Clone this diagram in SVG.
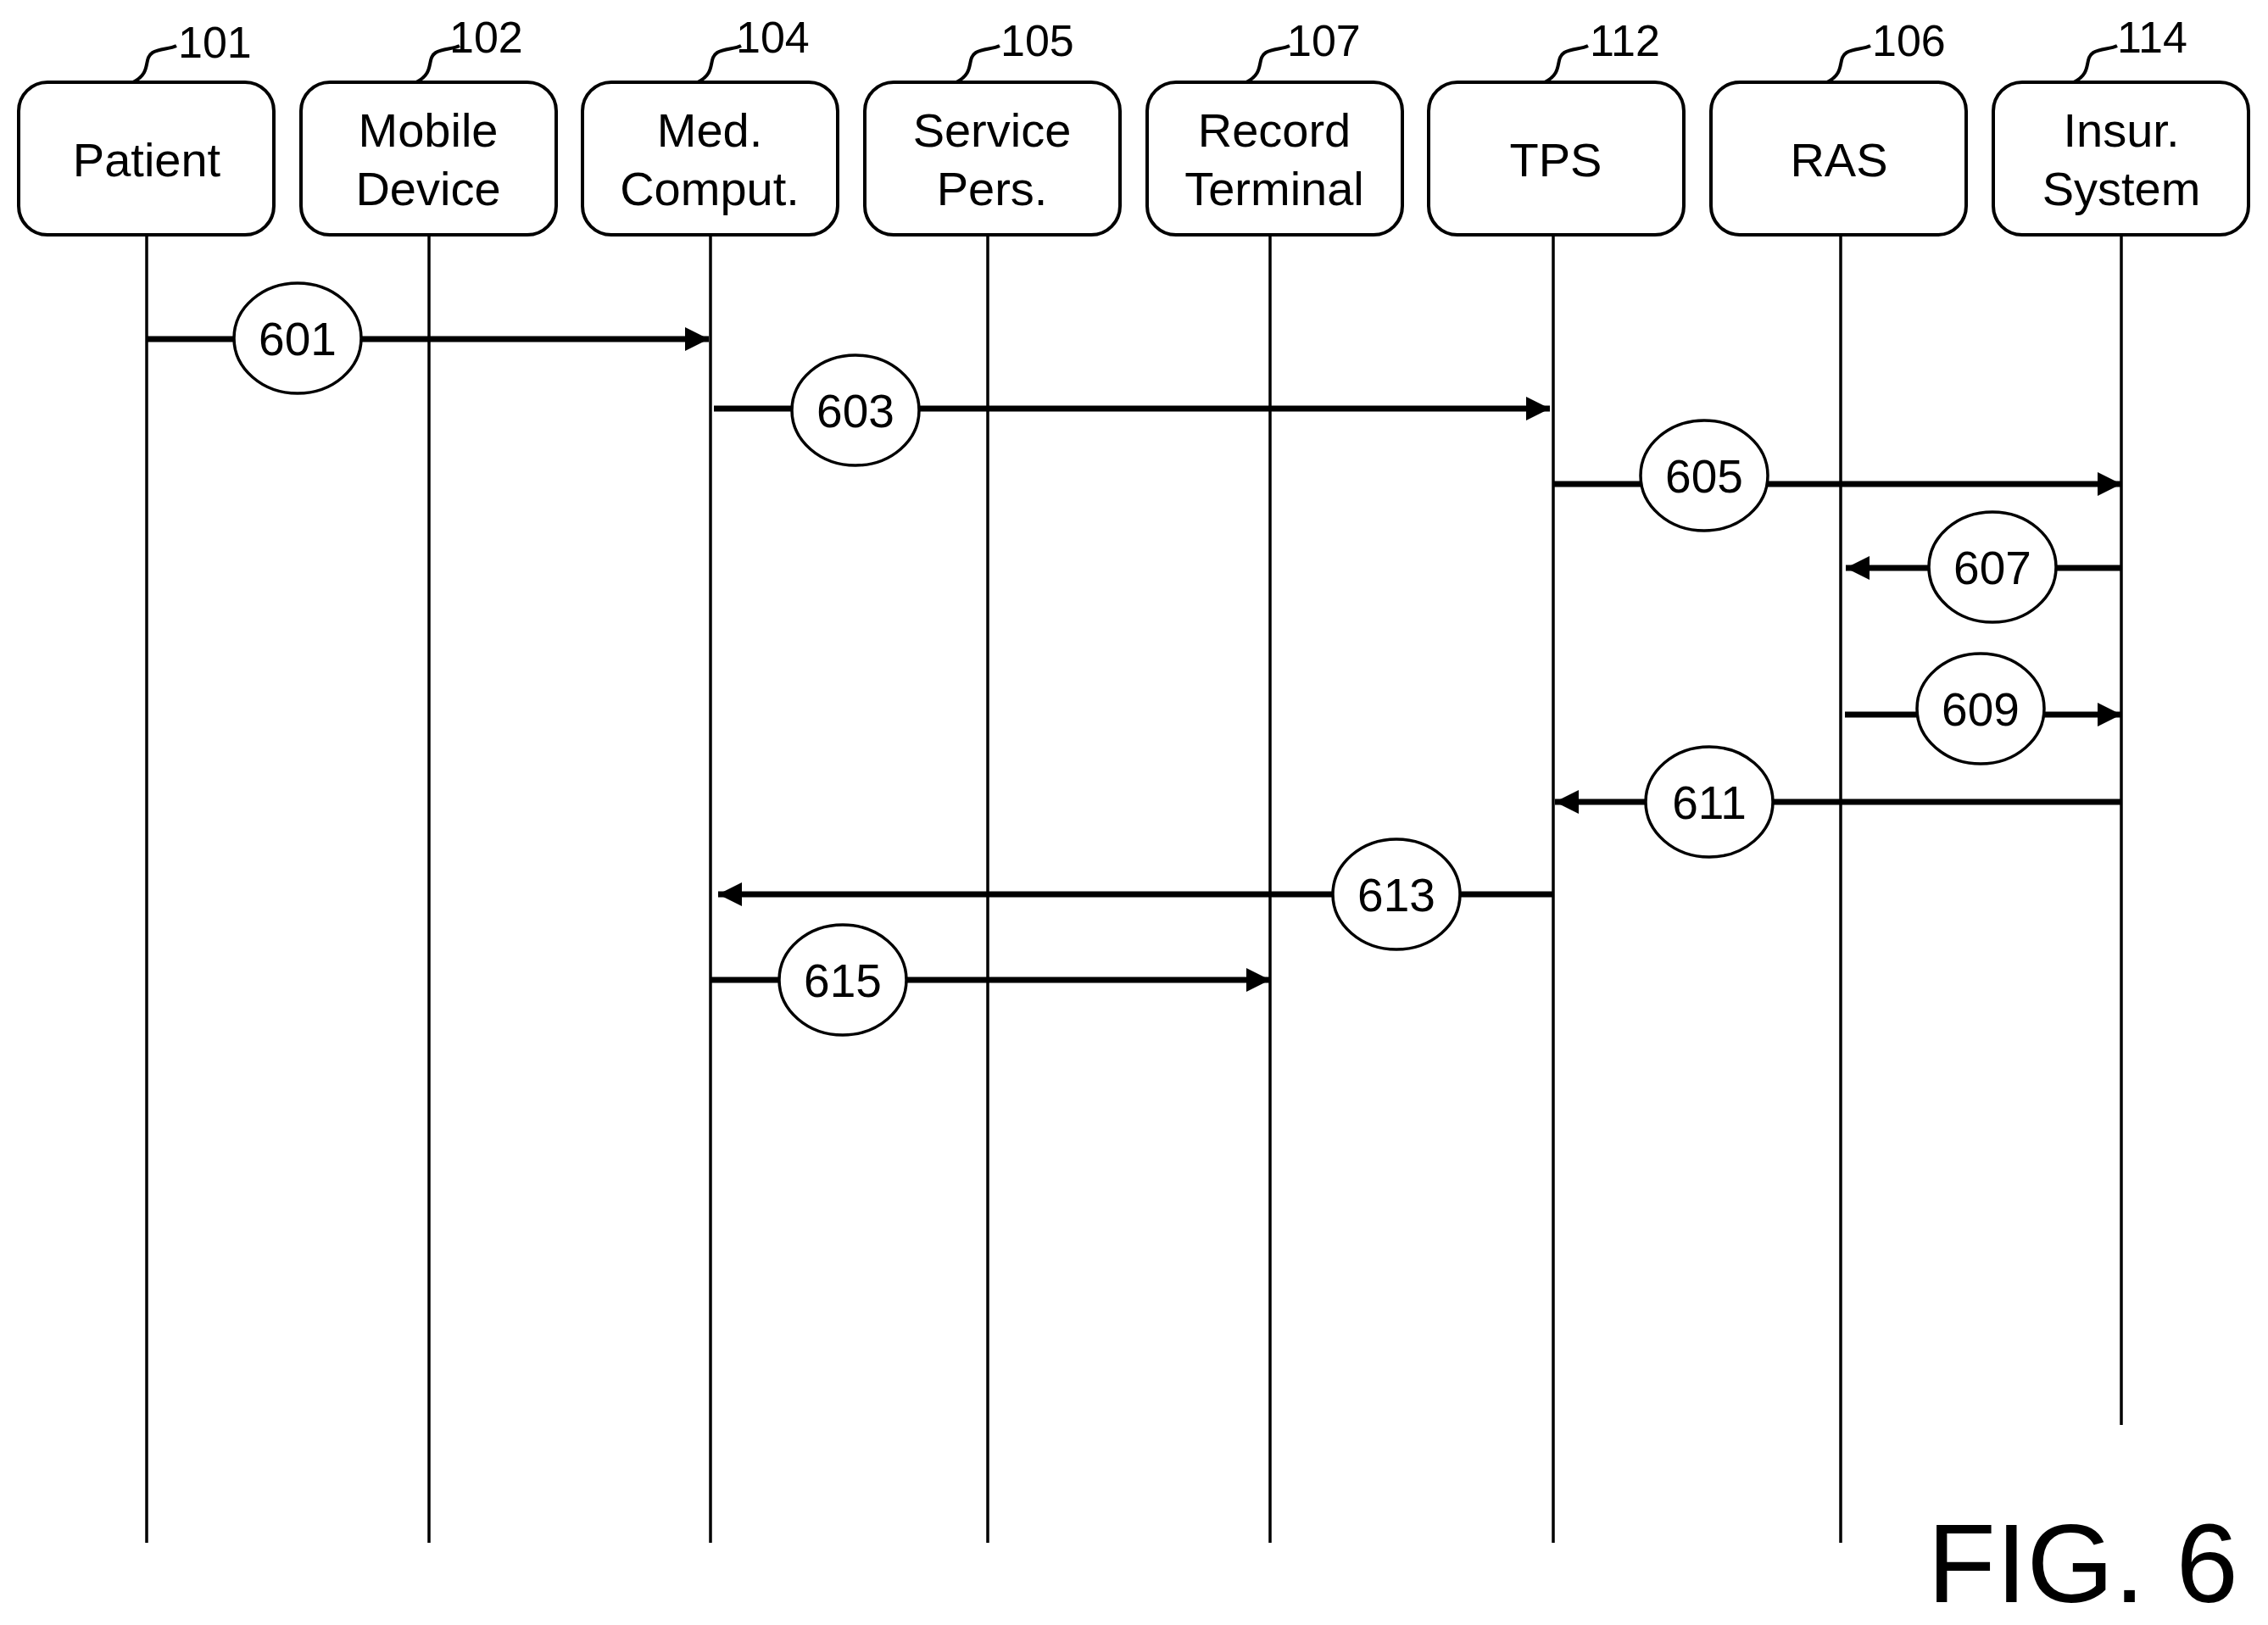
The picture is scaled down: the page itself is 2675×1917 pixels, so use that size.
<svg xmlns="http://www.w3.org/2000/svg" width="2675" height="1917" viewBox="0 0 2675 1917">
<style>
.box{fill:#fff;stroke:#000;stroke-width:4}
.life{stroke:#000;stroke-width:3.5}
.msg{stroke:#000;stroke-width:7;fill:none}
.sq{stroke:#000;stroke-width:4;fill:none}
.t{font-family:"Liberation Sans",Arial,sans-serif;font-size:56px;text-anchor:middle;fill:#000}
.n{font-family:"Liberation Sans",Arial,sans-serif;font-size:55px;text-anchor:middle;fill:#000}
.r{font-family:"Liberation Sans",Arial,sans-serif;font-size:52px;fill:#000}
.el{fill:#fff;stroke:#000;stroke-width:3.5}
</style>
<defs>
<marker id="ah" markerUnits="userSpaceOnUse" markerWidth="28" markerHeight="28" viewBox="0 0 28 28" refX="28" refY="14" orient="auto"><path d="M0,0 L28,14 L0,28 Z" fill="#000"/></marker>
</defs>
<rect width="2675" height="1917" fill="#fff"/>
<g id="lifelines">
<line class="life" x1="173" y1="277" x2="173" y2="1820"/>
<line class="life" x1="506" y1="277" x2="506" y2="1820"/>
<line class="life" x1="838" y1="277" x2="838" y2="1820"/>
<line class="life" x1="1165" y1="277" x2="1165" y2="1820"/>
<line class="life" x1="1498" y1="277" x2="1498" y2="1820"/>
<line class="life" x1="1832" y1="277" x2="1832" y2="1820"/>
<line class="life" x1="2171" y1="277" x2="2171" y2="1820"/>
<line class="life" x1="2502" y1="277" x2="2502" y2="1681"/>
</g>
<g id="n101"><rect class="box" x="22" y="97" width="301" height="180" rx="34"/><text class="t" x="173" y="208">Patient</text><path class="sq" d="M157,97 C180,85 168,70 180,62 C188,57 200,58 208,54"/><text class="r" x="210" y="68">101</text></g>
<g id="n102"><rect class="box" x="355" y="97" width="301" height="180" rx="34"/><text class="t" x="505" y="173">Mobile</text><text class="t" x="505" y="242">Device</text><path class="sq" d="M491,97 C514,85 502,70 514,62 C522,57 534,58 542,54"/><text class="r" x="530" y="62">102</text></g>
<g id="n104"><rect class="box" x="687" y="97" width="301" height="180" rx="34"/><text class="t" x="837" y="173">Med.</text><text class="t" x="837" y="242">Comput.</text><path class="sq" d="M823,97 C846,85 834,70 846,62 C854,57 866,58 874,54"/><text class="r" x="868" y="62">104</text></g>
<g id="n105"><rect class="box" x="1020" y="97" width="301" height="180" rx="34"/><text class="t" x="1170" y="173">Service</text><text class="t" x="1170" y="242">Pers.</text><path class="sq" d="M1128,97 C1151,85 1139,70 1151,62 C1159,57 1171,58 1179,54"/><text class="r" x="1180" y="66">105</text></g>
<g id="n107"><rect class="box" x="1353" y="97" width="301" height="180" rx="34"/><text class="t" x="1503" y="173">Record</text><text class="t" x="1503" y="242">Terminal</text><path class="sq" d="M1470,97 C1493,85 1481,70 1493,62 C1501,57 1513,58 1521,54"/><text class="r" x="1518" y="66">107</text></g>
<g id="n112"><rect class="box" x="1685" y="97" width="301" height="180" rx="34"/><text class="t" x="1835" y="208">TPS</text><path class="sq" d="M1822,97 C1845,85 1833,70 1845,62 C1853,57 1865,58 1873,54"/><text class="r" x="1875" y="66">112</text></g>
<g id="n106"><rect class="box" x="2018" y="97" width="301" height="180" rx="34"/><text class="t" x="2169" y="208">RAS</text><path class="sq" d="M2155,97 C2178,85 2166,70 2178,62 C2186,57 2198,58 2206,54"/><text class="r" x="2208" y="66">106</text></g>
<g id="n114"><rect class="box" x="2351" y="97" width="301" height="180" rx="34"/><text class="t" x="2502" y="173">Insur.</text><text class="t" x="2502" y="242">System</text><path class="sq" d="M2446,97 C2469,85 2457,70 2469,62 C2477,57 2489,58 2497,54"/><text class="r" x="2497" y="62">114</text></g>
<g id="connectors">
<line class="msg" x1="173" y1="400" x2="836" y2="400" marker-end="url(#ah)"/>
<line class="msg" x1="842" y1="482" x2="1828" y2="482" marker-end="url(#ah)"/>
<line class="msg" x1="1832" y1="571" x2="2502" y2="571" marker-end="url(#ah)"/>
<line class="msg" x1="2502" y1="670" x2="2177" y2="670" marker-end="url(#ah)"/>
<line class="msg" x1="2176" y1="843" x2="2502" y2="843" marker-end="url(#ah)"/>
<line class="msg" x1="2502" y1="946" x2="1834" y2="946" marker-end="url(#ah)"/>
<line class="msg" x1="1832" y1="1055" x2="847" y2="1055" marker-end="url(#ah)"/>
<line class="msg" x1="838" y1="1156" x2="1498" y2="1156" marker-end="url(#ah)"/>
</g>
<g id="m601"><ellipse class="el" cx="351" cy="399" rx="75" ry="65"/><text class="n" x="351" y="419">601</text></g>
<g id="m603"><ellipse class="el" cx="1009" cy="484" rx="75" ry="65"/><text class="n" x="1009" y="504">603</text></g>
<g id="m605"><ellipse class="el" cx="2010" cy="561" rx="75" ry="65"/><text class="n" x="2010" y="581">605</text></g>
<g id="m607"><ellipse class="el" cx="2350" cy="669" rx="75" ry="65"/><text class="n" x="2350" y="689">607</text></g>
<g id="m609"><ellipse class="el" cx="2336" cy="836" rx="75" ry="65"/><text class="n" x="2336" y="856">609</text></g>
<g id="m611"><ellipse class="el" cx="2016" cy="946" rx="75" ry="65"/><text class="n" x="2016" y="966">611</text></g>
<g id="m613"><ellipse class="el" cx="1647" cy="1055" rx="75" ry="65"/><text class="n" x="1647" y="1075">613</text></g>
<g id="m615"><ellipse class="el" cx="994" cy="1156" rx="75" ry="65"/><text class="n" x="994" y="1176">615</text></g>
<text x="2640" y="1890" font-family="Liberation Sans,Arial,sans-serif" font-size="132" text-anchor="end">FIG. 6</text>
</svg>
